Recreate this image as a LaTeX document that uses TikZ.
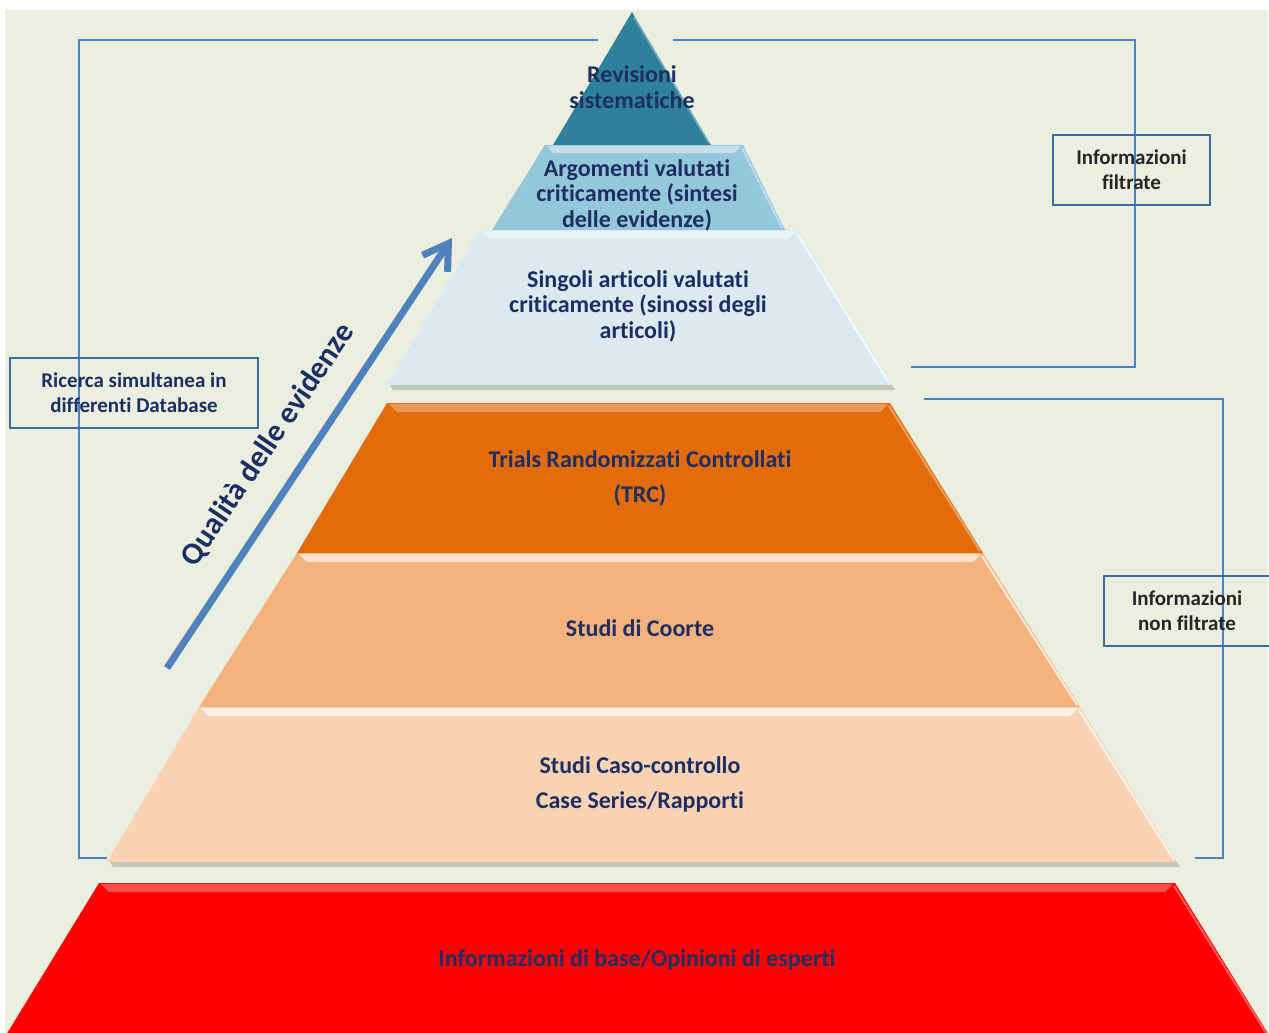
\documentclass[tikz,border=0pt]{standalone}
\usepackage{fontspec}
\setmainfont{Carlito}[Ligatures=NoCommon]
\usetikzlibrary{arrows.meta}
\definecolor{paper}{HTML}{EBEFDF}
\definecolor{txtnavy}{HTML}{1D2F62}
\definecolor{linkblue}{HTML}{4F81BD}
\definecolor{boxblue}{HTML}{3F6C9F}
\definecolor{apexteal}{HTML}{2F809A}
\definecolor{critblue}{HTML}{93C7D9}
\definecolor{paleblue}{HTML}{DAEAF0}
\definecolor{trcorange}{HTML}{E36C0A}
\definecolor{coorte}{HTML}{F6B27C}
\definecolor{casopeach}{HTML}{FAD3B5}
\definecolor{basered}{HTML}{FF0000}
\begin{document}
\begin{tikzpicture}[x=1pt,y=-1pt,
    layertext/.style={text=txtnavy, font=\fontsize{24}{25.5}\selectfont\bfseries, align=center},
    boxlabel/.style={draw=boxblue, line width=2pt, inner sep=0pt, align=center,
        minimum height=70pt, font=\fontsize{21}{25}\selectfont\bfseries},
    bracket/.style={draw=linkblue, line width=2pt},
    hilite/.style={fill=white, opacity=.45},
    edgelight/.style={draw=white, opacity=.75, line width=2pt},
    shadowband/.style={fill=black, opacity=.17}]
    \useasboundingbox (0,0) rectangle (1269,1033);
    \fill[white] (0,0) rectangle (1269,1033);
    \fill[paper] (5,10) rectangle (1268,1033);

    % brackets
    \coordinate (filtleft) at (598,40);
    \coordinate (filtfoot) at (107,858);
    \coordinate (filtright) at (673,40);
    \coordinate (filtend) at (911,367);
    \coordinate (nonfilt) at (924,399);
    \coordinate (nonfiltend) at (1195,858);
    \draw[bracket] (filtleft) -- (79,40) -- (79,858) -- (filtfoot);
    \draw[bracket] (filtright) -- (1135,40) -- (1135,367) -- (filtend);
    \draw[bracket] (nonfilt) -- (1223,399) -- (1223,858) -- (nonfiltend);

    % pyramid
    \fill[apexteal] (632,12) -- (711,145) -- (553,145) -- cycle;
    \draw[white, opacity=.3, line width=2pt] (634,17) -- (709,143);

    \fill[critblue] (545,145) -- (743,145) -- (785,230) -- (492,230) -- cycle;
    \fill[hilite] (547,146) -- (741,146) -- (735,153) -- (553,153) -- cycle;
    \draw[edgelight, opacity=.4] (742,148) -- (782,228);

    \fill[paleblue] (480,230) -- (798,230) -- (892,385) -- (387,385) -- cycle;
    \fill[hilite] (482,231) -- (796,231) -- (788,239) -- (490,239) -- cycle;
    \draw[edgelight] (797,233) -- (889,383);
    \fill[shadowband] (390,385) -- (892,385) -- (895,390) -- (393,390) -- cycle;

    \fill[trcorange] (387,403) -- (890,403) -- (983,553) -- (297,553) -- cycle;
    \fill[hilite, opacity=.3] (389,404) -- (888,404) -- (880,412) -- (397,412) -- cycle;
    \draw[edgelight, opacity=.35] (889,406) -- (980,551);

    \fill[coorte] (297,553) -- (983,553) -- (1080,707) -- (199,707) -- cycle;
    \fill[hilite, opacity=.6] (299,554) -- (981,554) -- (973,562) -- (307,562) -- cycle;
    \draw[edgelight] (982,556) -- (1077,705);

    \fill[casopeach] (199,707) -- (1080,707) -- (1177,862) -- (107,862) -- cycle;
    \fill[hilite, opacity=.7] (201,708) -- (1078,708) -- (1070,716) -- (209,716) -- cycle;
    \draw[edgelight] (1079,710) -- (1174,860);
    \fill[shadowband] (110,862) -- (1177,862) -- (1180,867) -- (113,867) -- cycle;

    \fill[basered] (99,883) -- (1175,883) -- (1272,1040) -- (3,1040) -- cycle;
    \fill[hilite, opacity=.3] (101,884) -- (1173,884) -- (1165,892) -- (109,892) -- cycle;
    \draw[edgelight, opacity=.35] (1174,886) -- (1268,1036);

    % layer texts
    \node[layertext] (revisioni) at (632,87) {Revisioni\\sistematiche};
    \node[layertext] (argomenti) at (637,195) {Argomenti valutati\\criticamente (sintesi\\delle evidenze)};
    \node[layertext] (singoli) at (638,306) {Singoli articoli valutati\\criticamente (sinossi degli\\articoli)};
    \node[layertext] (trials) at (640,478) {Trials Randomizzati Controllati\\[9.5pt](TRC)};
    \node[layertext] (coortetext) at (640,628) {Studi di Coorte};
    \node[layertext] (casocontrollo) at (640,784) {Studi Caso-controllo\\[9.5pt]Case Series/Rapporti};
    \node[layertext] (opinioni) at (637,960) {Informazioni di base/Opinioni di esperti};

    % quality arrow
    \coordinate (qtail) at (167,668);
    \coordinate (qhead) at (452,238);
    \draw[linkblue, line width=7pt, -{Straight Barb[length=24pt,width=30pt]}] (qtail) -- (qhead);
    \node[rotate=56, text=txtnavy, font=\fontsize{31}{32}\selectfont\bfseries] (qualita) at (268,445) {Qualità delle evidenze};

    % side boxes
    \node[boxlabel, text=txtnavy, minimum width=248pt] (ricerca) at (134,393) {Ricerca simultanea in\\differenti Database};
    \node[boxlabel, text=black!85, minimum width=157pt] (filtrate) at (1131.5,170) {Informazioni\\filtrate};
    \node[boxlabel, text=black!85, minimum width=166pt] (nonfiltrate) at (1187,611) {Informazioni\\non filtrate};
\end{tikzpicture}
\end{document}
